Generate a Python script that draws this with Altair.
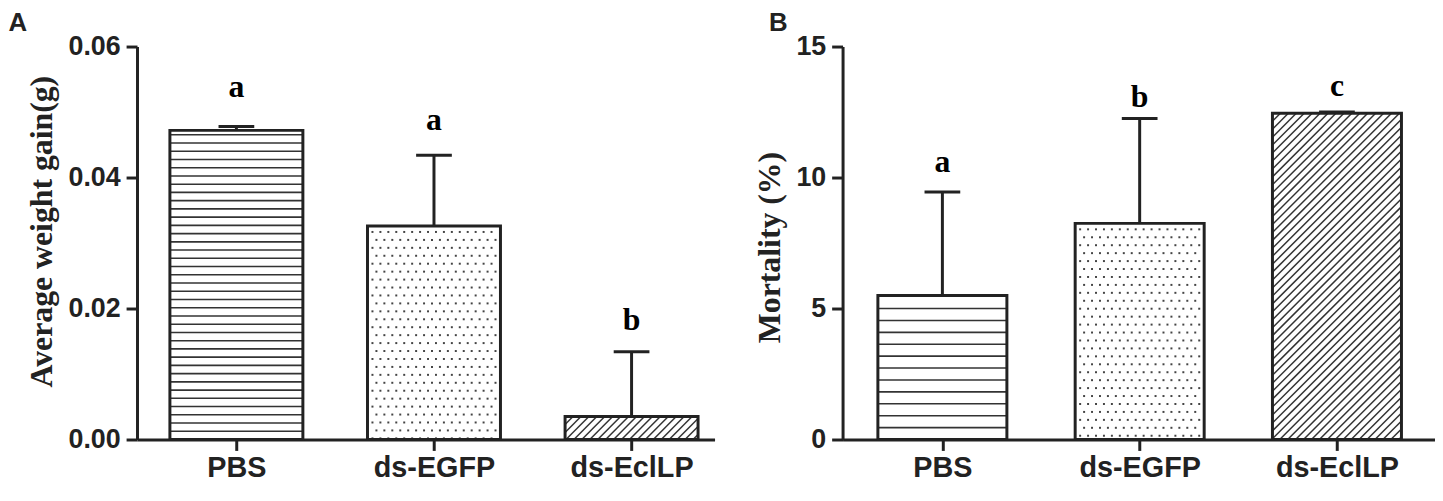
import altair as alt
import pandas as pd
import numpy as np

# ---------------- data ----------------
groups = ["PBS", "ds-EGFP", "ds-EclLP"]
group_pos = [1, 2, 3]
patterns = ["hlines", "dots", "diag"]

weight_mean = [0.0472, 0.0326, 0.0035]
weight_err = [0.0006, 0.0108, 0.0099]
weight_letters = ["a", "a", "b"]
weight_letter_y = [0.0523, 0.0472, 0.0167]

mort_mean = [5.5, 8.25, 12.45]
mort_err = [3.95, 4.0, 0.05]
mort_letters = ["a", "b", "c"]
mort_letter_y = [10.2, 12.7, 13.1]

INK = "#222222"
HATCH = "#333333"


def build_panel(means, errs, letters, letter_y, ymax, yticks, yfmt, ytitle,
                panel_letter, width, height, xdomain, hline_px, bar_px,
                title_dx, title_y):
    kx = width / (xdomain[1] - xdomain[0])   # px per x unit
    ky = height / ymax                        # px per y unit
    hw = bar_px / 2 / kx
    cap = 18 / kx

    bars = pd.DataFrame({
        "x": [p - hw for p in group_pos], "x2": [p + hw for p in group_pos],
        "y": [0.0] * 3, "y2": means, "group": groups})
    err = pd.DataFrame({
        "x": group_pos, "y": means,
        "y2": [m + e for m, e in zip(means, errs)]})
    caps = pd.DataFrame({
        "x": [p - cap for p in group_pos], "x2": [p + cap for p in group_pos],
        "y": [m + e for m, e in zip(means, errs)]})
    lab = pd.DataFrame({"x": group_pos, "y": letter_y, "t": letters})

    hl_rows, dot_rows, dg_rows = [], [], []
    for p, m, pat in zip(group_pos, means, patterns):
        left = p - hw
        top_px = m * ky
        if pat == "hlines":
            k = 0
            while k * hline_px < top_px - 2:
                hl_rows.append({"x": left, "x2": p + hw, "y": k * hline_px / ky})
                k += 1
        elif pat == "dots":
            r = 0
            while True:
                yp = top_px - 6 - r * 8
                if yp < 1:
                    break
                off = 5 if r % 2 == 0 else 9
                c = 0
                while off + c * 8 < bar_px - 3:
                    dot_rows.append({"x": left + (off + c * 8) / kx, "y": yp / ky})
                    c += 1
                r += 1
        else:
            d = 8.0
            o = -top_px
            while o < bar_px:
                xa = max(0.0, o)
                xb = min(bar_px, top_px + o)
                if xb > xa:
                    dg_rows.append({"x": left + xa / kx, "y": (xa - o) / ky,
                                    "x2": left + xb / kx, "y2": (xb - o) / ky})
                o += d

    labexpr = "[" + ",".join("'" + g + "'" for g in groups) + "][datum.value - 1]"
    X = alt.X("x:Q", scale=alt.Scale(domain=xdomain, nice=False, zero=False),
              axis=alt.Axis(values=group_pos, labelExpr=labexpr, title=None,
                            grid=False, labelFontSize=29, labelPadding=3,
                            labelFont="Liberation Sans", labelFontWeight="bold",
                            labelColor=INK, tickSize=11, tickWidth=3,
                            tickColor=INK, domainWidth=3, domainColor=INK))
    Y = alt.Y("y:Q", scale=alt.Scale(domain=[0, ymax], nice=False),
              axis=alt.Axis(values=yticks, format=yfmt, title=ytitle, grid=False,
                            labelFontSize=27, labelFont="Liberation Sans",
                            labelFontWeight="bold", labelColor=INK, labelPadding=6,
                            tickSize=11, tickWidth=3, tickColor=INK,
                            domainWidth=3, domainColor=INK,
                            titleFont="Liberation Serif", titleFontSize=32,
                            titleFontWeight="bold", titleColor=INK,
                            titlePadding=10, titleY=title_y))

    layers = []
    layers.append(alt.Chart(pd.DataFrame(hl_rows)).mark_rule(
        color=HATCH, strokeWidth=1.6).encode(x=X, x2="x2:Q", y=Y))
    layers.append(alt.Chart(pd.DataFrame(dot_rows)).mark_square(
        size=4, color="#444444", opacity=1).encode(x=X, y=Y))
    layers.append(alt.Chart(pd.DataFrame(dg_rows)).mark_rule(
        color=HATCH, strokeWidth=1.5).encode(x=X, x2="x2:Q", y=Y, y2="y2:Q"))
    layers.append(alt.Chart(bars).mark_rect(
        fill="white", fillOpacity=0, stroke=INK, strokeWidth=3).encode(
        x=X, x2="x2:Q", y=Y, y2="y2:Q"))
    layers.append(alt.Chart(err).mark_rule(color=INK, strokeWidth=3).encode(
        x=X, y=Y, y2="y2:Q"))
    layers.append(alt.Chart(caps).mark_rule(color=INK, strokeWidth=3).encode(
        x=X, x2="x2:Q", y=Y))
    layers.append(alt.Chart(lab).mark_text(
        font="Liberation Serif", fontSize=32, fontWeight="bold", color="black",
        baseline="alphabetic", align="center").encode(x=X, y=Y, text="t:N"))

    return alt.layer(*layers).properties(
        width=width, height=height,
        title=alt.TitleParams(panel_letter, anchor="start", frame="bounds",
                              font="Liberation Sans", fontSize=26,
                              fontWeight="bold", color=INK, dx=title_dx,
                              offset=-3))


panel_a = build_panel(weight_mean, weight_err, weight_letters, weight_letter_y,
                      0.06, [0, 0.02, 0.04, 0.06], ".2f", "Average weight gain(g)",
                      "A", 582, 396, [0.497, 3.42], 8.3, 134, -17, 186)
panel_b = build_panel(mort_mean, mort_err, mort_letters, mort_letter_y,
                      15, [0, 5, 10, 15], "d", "Mortality (%)",
                      "B", 597, 396, [0.494, 3.497], 12.0, 130, 16, 202)

chart = alt.hconcat(panel_a, panel_b, spacing=38).properties(
    padding={"left": 0, "top": 0, "right": 0, "bottom": 0},
    background="white"
).configure_view(strokeWidth=0, stroke=None)

chart.save("out.html", embed_options={"renderer": "svg", "actions": False})
